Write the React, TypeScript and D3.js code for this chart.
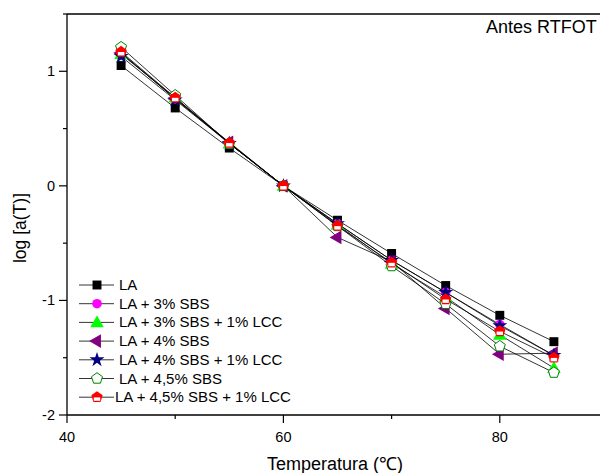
import * as d3 from 'd3'

const temps = [45, 50, 55, 60, 65, 70, 75, 80, 85]
const seriesNames = [
  'LA',
  'LA + 3% SBS',
  'LA + 3% SBS + 1% LCC',
  'LA + 4% SBS',
  'LA + 4% SBS + 1% LCC',
  'LA + 4,5% SBS',
  'LA + 4,5% SBS + 1% LCC',
]
const la = [1.05, 0.68, 0.33, 0, -0.30, -0.59, -0.87, -1.13, -1.36]
const la3 = [1.16, 0.76, 0.37, 0, -0.33, -0.65, -0.93, -1.21, -1.48]
const la3lcc = [1.15, 0.77, 0.37, 0, -0.34, -0.68, -0.97, -1.30, -1.59]
const la4 = [1.16, 0.76, 0.38, 0, -0.45, -0.66, -1.07, -1.47, -1.46]
const la4lcc = [1.13, 0.75, 0.37, 0, -0.33, -0.65, -0.93, -1.22, -1.48]
const la45 = [1.21, 0.79, 0.37, 0, -0.35, -0.70, -1.03, -1.40, -1.63]
const la45lcc = [1.17, 0.77, 0.375, 0, -0.35, -0.67, -0.99, -1.27, -1.50]
const allValues = [la, la3, la3lcc, la4, la4lcc, la45, la45lcc]
const xTicks = [40, 60, 80]
const yTicks = [-2, -1, 0, 1]

const width = 600,
      height = 473,
      left = 67, top = 14, right = 608, bottom = 415,
      font = 'Liberation Sans, Arial, sans-serif'

const x = d3.scaleLinear().domain([40, 90]).range([left, right])
const y = d3.scaleLinear().domain([-2, 1.5]).range([bottom, top])

const pentagon = (r: number) => {
  const pts = d3.range(5).map(i => {
    const a = -Math.PI / 2 + i * 2 * Math.PI / 5
    return [r * Math.cos(a), r * Math.sin(a)]
  })
  return 'M' + pts.map(p => p.join(',')).join('L') + 'Z'
}

const Marker = ({ k, cx, cy }: { k: number, cx: number, cy: number }) => {
  const t = `translate(${cx},${cy})`
  if (k === 0) return <path transform={t} d={d3.symbol(d3.symbolSquare, 80)()!} fill='#000' />
  if (k === 1) return <circle cx={cx} cy={cy} r={4.8} fill='#ff00ff' />
  if (k === 2) return <path transform={t + ' translate(0,1)'} d={d3.symbol(d3.symbolTriangle, 80)()!} fill='#00ff00' />
  if (k === 3) return <path transform={t + ' rotate(-90)'} d={d3.symbol(d3.symbolTriangle, 80)()!} fill='#800080' />
  if (k === 4) return <path transform={t} d={d3.symbol(d3.symbolStar, 70)()!} fill='#000080' />
  if (k === 5) return <path transform={t} d={pentagon(5.8)} fill='#fff' stroke='#008000' strokeWidth={1} />
  return (
    <g transform={t}>
      <path d={pentagon(6)} fill='#ff0000' />
      <rect x={-3.2} y={0.2} width={6.4} height={3.4} fill='#fff' />
    </g>
  )
}

export default function App() {
  const lineGen = d3.line<number>().x((_, i) => x(temps[i])).y(d => y(d))
  const minorX = [50, 70, 90]
  const minorY = [-1.5, -0.5, 0.5, 1.5]
  const legendY = (i: number) => 285 + i * 18.7

  return (
    <svg width={width} height={height} style={{ position: 'absolute', left: 0, top: 0, background: '#fff' }}
      fontFamily={font}>
      {/* series */}
      {allValues.map((vals, k) => (
        <g key={k}>
          <path d={lineGen(vals)!} fill='none' stroke='#000' strokeWidth={0.8} />
          {vals.map((v, i) => <Marker key={i} k={k} cx={x(temps[i])} cy={y(v)} />)}
        </g>
      ))}

      {/* frame */}
      <line x1={left} x2={right} y1={top} y2={top} stroke='#000' strokeWidth={1.3} />
      <line x1={left} x2={right} y1={bottom} y2={bottom} stroke='#000' strokeWidth={1.3} />
      <line x1={left} x2={left} y1={top} y2={bottom} stroke='#000' strokeWidth={1.3} />

      {/* x ticks */}
      {xTicks.map(t => (
        <g key={t}>
          <line x1={x(t)} x2={x(t)} y1={bottom} y2={bottom + 8} stroke='#000' strokeWidth={1.2} />
          <text x={x(t)} y={442} textAnchor='middle' fontSize={14.5}>{t}</text>
        </g>
      ))}
      {minorX.map(t => <line key={t} x1={x(t)} x2={x(t)} y1={bottom} y2={bottom + 4} stroke='#000' strokeWidth={1.2} />)}

      {/* y ticks */}
      {yTicks.map(t => (
        <g key={t}>
          <line x1={left - 8} x2={left} y1={y(t)} y2={y(t)} stroke='#000' strokeWidth={1.2} />
          <text x={55} y={y(t) + 5} textAnchor='end' fontSize={14.5}>{t}</text>
        </g>
      ))}
      {minorY.map(t => <line key={t} x1={left - 4} x2={left} y1={y(t)} y2={y(t)} stroke='#000' strokeWidth={1.2} />)}

      {/* axis titles */}
      <text x={335} y={470} textAnchor='middle' fontSize={18}>Temperatura (℃)</text>
      <text transform='translate(26,228) rotate(-90)' textAnchor='middle' fontSize={17.5}>log [a(T)]</text>
      <text x={486} y={33} fontSize={18}>Antes RTFOT</text>

      {/* legend */}
      {seriesNames.map((name, k) => (
        <g key={name}>
          <line x1={79} x2={114} y1={legendY(k)} y2={legendY(k)} stroke='#000' strokeWidth={0.8} />
          <Marker k={k} cx={97} cy={legendY(k)} />
          <text x={k === 6 ? 115 : 119} y={legendY(k) + 5} fontSize={15}>{name}</text>
        </g>
      ))}
    </svg>
  )
}
